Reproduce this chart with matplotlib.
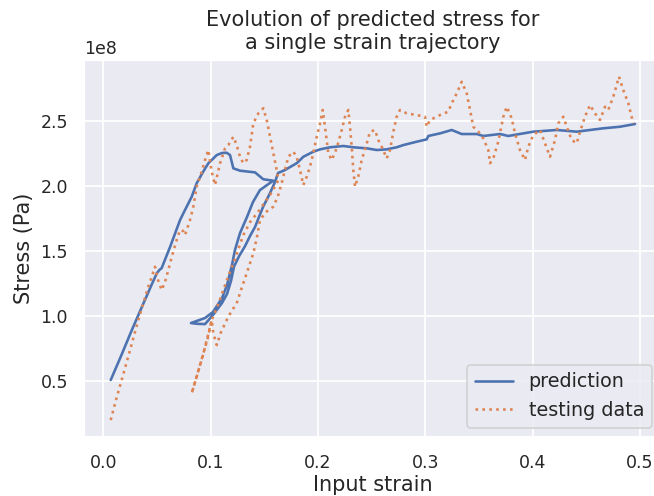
import numpy as np
import matplotlib
matplotlib.use("Agg")
import matplotlib.pyplot as plt
import seaborn as sns

# prediction (stress in units of 1e8 Pa)
pred_strain = [0.0069, 0.0165, 0.0258, 0.0351, 0.0445, 0.0498, 0.0522, 0.0544, 0.0622, 0.0715,
               0.0761, 0.0824, 0.0870, 0.0929, 0.0979, 0.1057, 0.1106, 0.1150, 0.1181, 0.1212,
               0.1274, 0.1414, 0.1491, 0.1584,
               # unloading
               0.1530, 0.1460, 0.1395, 0.1339, 0.1274, 0.1227, 0.1199, 0.1153, 0.1106, 0.1022,
               0.0948, 0.0817, 0.0880, 0.0948,
               # reloading
               0.1022, 0.1106, 0.1153, 0.1190, 0.1218, 0.1265, 0.1321, 0.1367, 0.1414, 0.1451,
               0.1488, 0.1526, 0.1554, 0.1600, 0.1628, 0.1693, 0.1805,
               # plateau
               0.1864, 0.1957, 0.2020, 0.2113, 0.2237, 0.2330, 0.2455, 0.2548, 0.2641, 0.2734,
               0.2796, 0.2921, 0.3014, 0.3029, 0.3138, 0.3247, 0.3340, 0.3480, 0.3541, 0.3697,
               0.3774, 0.4007, 0.4226, 0.4412, 0.4660, 0.4815, 0.4955]
pred_stress = [0.508, 0.692, 0.877, 1.054, 1.231, 1.328, 1.354, 1.369, 1.531, 1.738,
               1.815, 1.918, 2.021, 2.108, 2.175, 2.238, 2.254, 2.256, 2.238, 2.136,
               2.118, 2.105, 2.052, 2.041,
               2.010, 1.969, 1.877, 1.762, 1.638, 1.508, 1.392, 1.238, 1.138, 1.031,
               0.985, 0.946, 0.940, 0.938,
               1.008, 1.100, 1.170, 1.270, 1.380, 1.460, 1.538, 1.615, 1.685, 1.762,
               1.838, 1.900, 1.946, 2.031, 2.100, 2.123, 2.177,
               2.225, 2.264, 2.282, 2.298, 2.308, 2.298, 2.290, 2.277, 2.282, 2.298,
               2.315, 2.341, 2.359, 2.385, 2.405, 2.431, 2.400, 2.400, 2.385, 2.400,
               2.385, 2.418, 2.431, 2.418, 2.444, 2.456, 2.477]

# testing data
test_strain = [0.0069, 0.0118, 0.0171, 0.0249, 0.0326, 0.0419, 0.0454, 0.0482, 0.0510, 0.0544,
               0.0575, 0.0606, 0.0640, 0.0684, 0.0715, 0.0743, 0.0761, 0.0808, 0.0839, 0.0870,
               0.0917, 0.0948, 0.0979, 0.1010, 0.1041, 0.1088, 0.1134, 0.1165, 0.1212, 0.1243,
               0.1274, 0.1305, 0.1336, 0.1367, 0.1398, 0.1445, 0.1491, 0.1523, 0.1554, 0.1584,
               0.1600, 0.1616, 0.1631,
               # unloading
               0.1572, 0.1507, 0.1442, 0.1368, 0.1305, 0.1256, 0.1212, 0.1162, 0.1118, 0.1069,
               0.1010, 0.0976, 0.0932, 0.0901, 0.0870, 0.0824,
               # reloading
               0.0870, 0.0929, 0.0976, 0.1010, 0.1025, 0.1057, 0.1097, 0.1150, 0.1190, 0.1243,
               0.1283, 0.1336, 0.1398, 0.1432, 0.1460, 0.1516, 0.1584, 0.1628, 0.1665, 0.1693,
               0.1724, 0.1771, 0.1802, 0.1833, 0.1864, 0.1896, 0.1926, 0.1957, 0.1989, 0.2020,
               0.2045, 0.2066, 0.2097, 0.2129, 0.2175, 0.2222, 0.2253, 0.2283, 0.2299, 0.2315,
               0.2330, 0.2346, 0.2376, 0.2408, 0.2455, 0.2486, 0.2532, 0.2563, 0.2595, 0.2641,
               0.2672, 0.2703, 0.2734, 0.2765, 0.2828, 0.2921, 0.2998, 0.3014, 0.3045, 0.3138,
               0.3215, 0.3247, 0.3294, 0.3340, 0.3387, 0.3418, 0.3448, 0.3495, 0.3541, 0.3588,
               0.3604, 0.3635, 0.3681, 0.3728, 0.3760, 0.3806, 0.3837, 0.3883, 0.3930, 0.3961,
               0.4007, 0.4070, 0.4116, 0.4163, 0.4210, 0.4240, 0.4287, 0.4319, 0.4365, 0.4412,
               0.4443, 0.4489, 0.4536, 0.4582, 0.4629, 0.4676, 0.4706, 0.4753, 0.4806, 0.4846,
               0.4893, 0.4924, 0.4939]
test_stress = [0.200, 0.354, 0.508, 0.738, 0.969, 1.225, 1.308, 1.379, 1.277, 1.200,
               1.262, 1.354, 1.462, 1.585, 1.662, 1.654, 1.623, 1.738, 1.841, 1.995,
               2.110, 2.200, 2.277, 2.110, 2.008, 2.175, 2.290, 2.315, 2.379, 2.315,
               2.225, 2.175, 2.200, 2.302, 2.482, 2.559, 2.598, 2.508, 2.379, 2.252,
               2.187, 2.123, 2.046,
               1.954, 1.877, 1.800, 1.723, 1.623, 1.508, 1.405, 1.300, 1.200, 1.085,
               0.969, 0.838, 0.713, 0.623, 0.533, 0.405,
               0.531, 0.700, 0.854, 0.969, 0.869, 0.777, 0.877, 0.969, 1.031, 1.098,
               1.200, 1.328, 1.482, 1.608, 1.738, 1.800, 1.841, 1.923, 2.031, 2.123,
               2.225, 2.264, 2.225, 2.123, 2.008, 2.072, 2.148, 2.252, 2.379, 2.482,
               2.585, 2.456, 2.252, 2.200, 2.290, 2.431, 2.533, 2.585, 2.456, 2.302,
               2.123, 1.995, 2.072, 2.200, 2.328, 2.418, 2.431, 2.354, 2.302, 2.213,
               2.277, 2.418, 2.533, 2.585, 2.559, 2.546, 2.533, 2.456, 2.508, 2.546,
               2.572, 2.636, 2.713, 2.802, 2.713, 2.585, 2.456, 2.418, 2.367, 2.277,
               2.175, 2.213, 2.341, 2.533, 2.610, 2.521, 2.405, 2.277, 2.200, 2.302,
               2.392, 2.431, 2.328, 2.225, 2.354, 2.482, 2.533, 2.456, 2.354, 2.328,
               2.418, 2.533, 2.623, 2.559, 2.508, 2.610, 2.585, 2.687, 2.841, 2.738,
               2.636, 2.533, 2.482]

sns.set_theme()
plt.rcParams["xtick.labelsize"] = 10
plt.rcParams["ytick.labelsize"] = 10

fig = plt.figure(figsize=(654 / 125, 496 / 125), dpi=125)
ax = fig.add_axes([0.1292, 0.1185, 0.8818, 0.7615])

ax.plot(pred_strain, np.array(pred_stress) * 1e8, label="prediction")
ax.plot(test_strain, np.array(test_stress) * 1e8, ":", label="testing data")

ax.set_title("Evolution of predicted stress for\na single strain trajectory")
ax.set_xlabel("Input strain", labelpad=2)
ax.set_ylabel("Stress (Pa)")
ax.legend(loc="lower right")

fig.savefig("out.png", dpi=125)
